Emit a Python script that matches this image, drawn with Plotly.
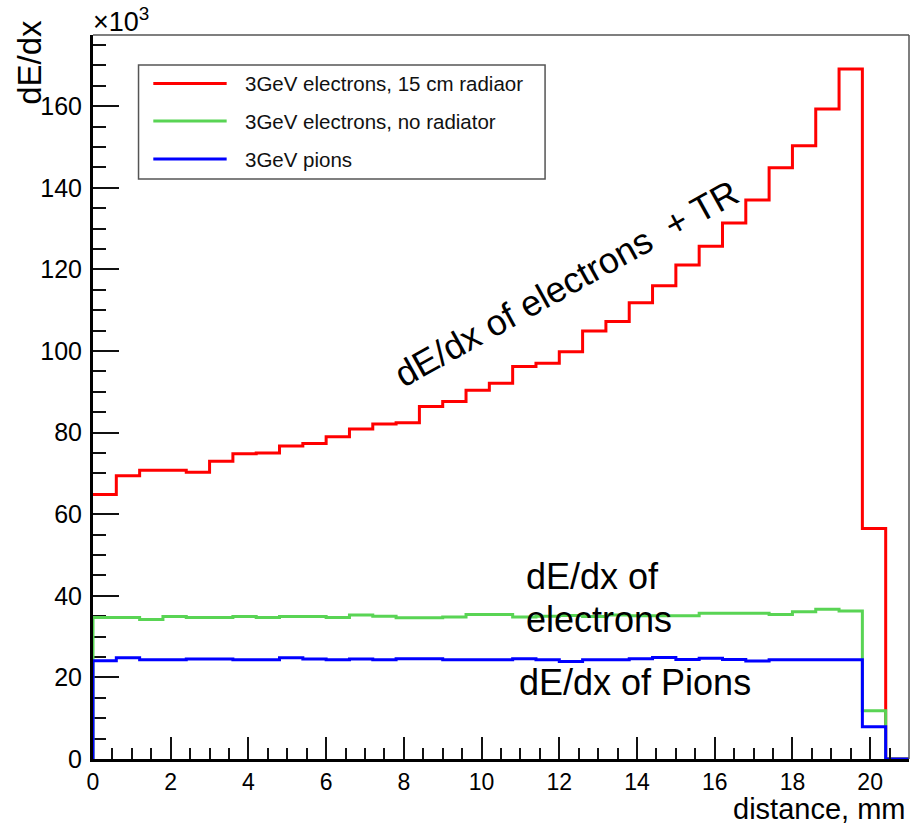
import numpy as np
import plotly.graph_objects as go

# dE/dx per 0.6 mm slice along the detector (units of 10^3); last slice is empty
bin_edges = np.linspace(0.0, 21.0, 36)

electrons_radiator = [64.8, 69.4, 70.8, 70.8, 70.3, 73.0, 74.8, 75.0, 76.7, 77.3,
                      79.0, 80.9, 82.1, 82.4, 86.4, 87.6, 90.4, 92.1, 96.2, 97.0,
                      99.8, 104.9, 107.2, 111.8, 116.0, 121.1, 125.7, 131.4, 137.0, 144.9,
                      150.3, 159.3, 169.1, 56.5, 0.0]
electrons_no_radiator = [34.7, 34.7, 34.2, 34.9, 34.7, 34.7, 34.9, 34.7, 34.9, 34.9,
                         34.7, 35.3, 35.0, 34.6, 34.6, 34.8, 35.4, 35.4, 34.8, 35.0,
                         35.2, 34.9, 35.3, 35.1, 35.1, 35.1, 35.7, 35.7, 35.7, 35.4,
                         36.1, 36.7, 36.3, 11.8, 0.0]
pions = [24.1, 24.8, 24.3, 24.3, 24.5, 24.5, 24.3, 24.3, 24.8, 24.5,
         24.3, 24.5, 24.3, 24.6, 24.6, 24.3, 24.3, 24.3, 24.6, 24.3,
         23.9, 24.3, 24.3, 24.6, 24.9, 24.4, 24.7, 24.4, 24.0, 24.3,
         24.3, 24.3, 24.3, 7.9, 0.0]

series_names = ["3GeV electrons, 15 cm radiaor",
                "3GeV electrons, no radiator",
                "3GeV pions"]
series_colors = ["#FF0000", "#59D454", "#0000FF"]
series_values = [electrons_radiator, electrons_no_radiator, pions]
# the radiator curve is drawn without the rise at x=0 (hidden by the axis)
series_rise = [False, True, True]

x_ticks = [0, 2, 4, 6, 8, 10, 12, 14, 16, 18, 20]
y_ticks = [0, 20, 40, 60, 80, 100, 120, 140, 160]

FONT = "Liberation Sans, Arial, Helvetica, sans-serif"

fig = go.Figure()

for name, color, vals, rise in zip(series_names, series_colors, series_values, series_rise):
    # step outline, falling back to zero after the last filled slice
    xs = list(bin_edges[:-1]) + [bin_edges[-1]]
    ys = list(vals) + [0.0]
    if rise:
        xs = [bin_edges[0]] + xs
        ys = [0.0] + ys
    fig.add_trace(go.Scatter(x=xs, y=ys, mode="lines", line_shape="hv",
                             line=dict(color=color, width=3), name=name,
                             showlegend=False, hoverinfo="skip", cliponaxis=False))

fig.update_layout(
    width=912, height=824,
    margin=dict(l=93, r=3, t=35, b=65),
    paper_bgcolor="white", plot_bgcolor="white",
    font=dict(family=FONT, color="black"),
)

fig.update_xaxes(
    range=[0, 21], tickvals=x_ticks, ticktext=[str(v) for v in x_ticks],
    ticks="inside", ticklen=22, tickwidth=2, tickcolor="#111",
    minor=dict(dtick=0.5, ticks="inside", ticklen=11, tickwidth=2, tickcolor="#111"),
    showline=True, linewidth=3, linecolor="black", showgrid=False, zeroline=False,
    tickfont=dict(size=23, family=FONT), ticklabelstandoff=0,
)
fig.update_yaxes(
    range=[0, 177.45], tickvals=y_ticks, ticktext=[str(v) for v in y_ticks],
    ticks="inside", ticklen=26, tickwidth=2, tickcolor="#111",
    minor=dict(dtick=5, ticks="inside", ticklen=13, tickwidth=2, tickcolor="#111"),
    showline=True, linewidth=3, linecolor="black", showgrid=False, zeroline=False,
    tickfont=dict(size=25, family=FONT), ticklabelstandoff=3,
    layer="below traces",
)

# thin frame on the top and right sides
fig.add_shape(type="line", xref="paper", yref="paper", x0=0, x1=1, y0=1, y1=1,
              line=dict(color="#555", width=1.5))
fig.add_shape(type="line", xref="paper", yref="paper", x0=1, x1=1, y0=0, y1=1,
              line=dict(color="#555", width=1.5))

# legend box
fig.add_shape(type="rect", xref="paper", yref="paper",
              x0=0.0558, x1=0.554, y0=0.8011, y1=0.9586,
              line=dict(color="#555", width=1.5), fillcolor="white")
legend_rows = [0.9330, 0.8812, 0.8287]
for name, color, yr in zip(series_names, series_colors, legend_rows):
    fig.add_shape(type="line", xref="paper", yref="paper",
                  x0=0.0739, x1=0.1638, y0=yr, y1=yr,
                  line=dict(color=color, width=3))
    fig.add_annotation(text=name, xref="paper", yref="paper", x=0.1842, y=yr,
                       xanchor="left", yanchor="middle", showarrow=False,
                       font=dict(size=20.5, family=FONT, color="#111"))

# axis titles and exponent
fig.add_annotation(text="dE/dx", xref="paper", yref="paper", x=-0.0787, y=(759 - 62) / 724,
                   xanchor="center", yanchor="middle", textangle=-90, showarrow=False,
                   font=dict(size=33, family=FONT))
fig.add_annotation(text="×10<sup>3</sup>", xref="paper", yref="paper", x=-0.002, y=1.0,
                   xanchor="left", yanchor="bottom", yshift=-4, showarrow=False,
                   font=dict(size=27, family=FONT))
fig.add_annotation(text="distance, mm", xref="paper", yref="paper", x=0.997, y=(759 - 809) / 724,
                   xanchor="right", yanchor="middle", showarrow=False,
                   font=dict(size=29, family=FONT))

# curve labels
fig.add_annotation(text="dE/dx of electrons &nbsp;+ TR", xref="paper", yref="paper",
                   x=(566 - 93) / 816, y=(759 - 283) / 724, xanchor="center", yanchor="middle",
                   textangle=-29, showarrow=False, font=dict(size=36, family=FONT))
fig.add_annotation(text="dE/dx of", xref="paper", yref="paper",
                   x=(524 - 93) / 816, y=(759 - 577) / 724, xanchor="left", yanchor="middle",
                   showarrow=False, font=dict(size=36, family=FONT))
fig.add_annotation(text="electrons", xref="paper", yref="paper",
                   x=(524 - 93) / 816, y=(759 - 619) / 724, xanchor="left", yanchor="middle",
                   showarrow=False, font=dict(size=36, family=FONT))
fig.add_annotation(text="dE/dx of Pions", xref="paper", yref="paper",
                   x=(517 - 93) / 816, y=(759 - 682) / 724, xanchor="left", yanchor="middle",
                   showarrow=False, font=dict(size=36, family=FONT))

fig.write_html("out.html")
